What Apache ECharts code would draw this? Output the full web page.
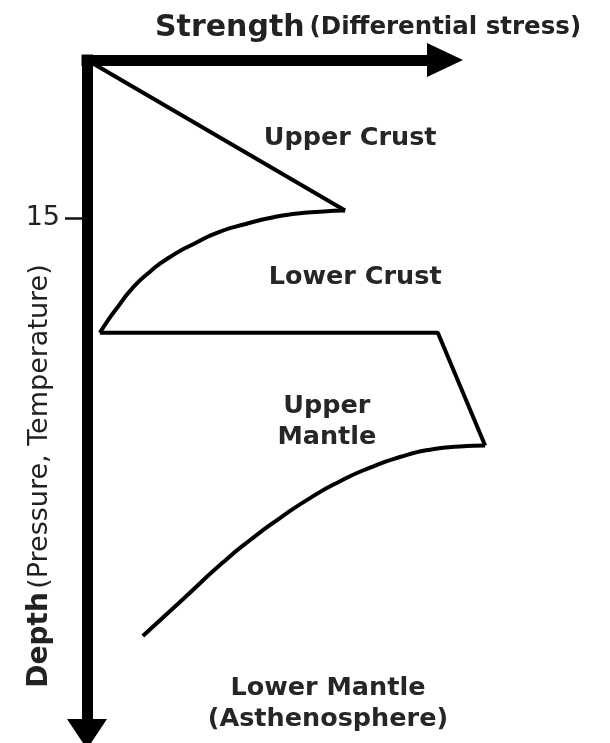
<!DOCTYPE html>
<html>
<head>
<meta charset="utf-8">
<script src="https://cdn.jsdelivr.net/npm/echarts@6/dist/echarts.min.js"></script>
<style>
  html, body { margin: 0; padding: 0; background: #fff; }
  #chart { width: 610px; height: 743px; }
</style>
</head>
<body>
<div id="chart"></div>
<script>
// strength (x) vs depth (y, downwards)
const depthTicks = [15]
const upperCrustLine = [[0, 0], [72.1, 14.3]]
const lowerCrustCurve = [[72.1, 14.3], [65.1, 14.4], [58.1, 14.6], [51.1, 15.0], [44.1, 15.6], [37.2, 16.3], [30.2, 17.4], [23.2, 18.7], [17.6, 20.1], [12.6, 21.7], [8.7, 23.4], [5.9, 24.7], [3.6, 25.9]]
const upperMantleEdge = [[3.6, 25.9], [98.0, 25.9], [111.2, 36.6]]
const lowerMantleCurve = [[111.2, 36.6], [104.2, 36.7], [95.8, 37.0], [87.4, 37.7], [79.1, 38.7], [70.7, 40.0], [62.3, 41.6], [53.9, 43.5], [45.5, 45.6], [38.0, 47.7], [26.8, 51.2], [15.6, 54.7]]
const zoneNames = ['Upper Crust', 'Lower Crust', 'Upper\nMantle', 'Lower Mantle\n(Asthenosphere)']
const zonePos = [[73.5, 7.4], [74.9, 20.6], [67.0, 34.4], [67.3, 61.1]]

const chart = echarts.init(document.getElementById('chart'))

const lineStyle = { color: '#000', width: 4 }
function profile (name, data, smooth) {
  return {
    name: name,
    type: 'line',
    xAxisIndex: 1,
    yAxisIndex: 1,
    data: data,
    smooth: smooth,
    showSymbol: false,
    silent: true,
    lineStyle: lineStyle
  }
}

const option = {
  backgroundColor: '#fff',
  animation: false,
  title: {
    left: 150,
    top: 8,
    text: '{a|Strength} {b|(Differential stress)}',
    textStyle: {
      rich: {
        a: { fontFamily: 'DejaVu Sans', fontWeight: 'bold', fontSize: 30, color: '#222' },
        b: { fontFamily: 'DejaVu Sans', fontWeight: 'bold', fontSize: 24.5, color: '#222' }
      }
    }
  },
  graphic: [{
    type: 'text',
    x: 40,
    y: 476,
    rotation: Math.PI / 2,
    style: {
      text: '{a|Depth} {b|(Pressure, Temperature)}',
      align: 'center',
      verticalAlign: 'middle',
      rich: {
        a: { fontFamily: 'DejaVu Sans', fontWeight: 'bold', fontSize: 28, fill: '#222' },
        b: { fontFamily: 'DejaVu Sans', fontSize: 27, fill: '#222' }
      }
    }
  }],
  grid: [
    // axes frame
    { left: 87, top: 60, right: 165, bottom: 9, containLabel: false, outerBoundsMode: 'none' },
    // same scale, wider so the profile can pass the arrow
    { left: 87, top: 60, right: 93.4, bottom: 9, containLabel: false, outerBoundsMode: 'none' }
  ],
  xAxis: [{
    type: 'value',
    gridIndex: 0,
    position: 'top',
    min: 0,
    max: 100,
    splitLine: { show: false },
    axisTick: { show: false },
    axisLabel: { show: false },
    axisLine: {
      show: true,
      symbol: ['none', 'triangle'],
      symbolSize: [34, 36],
      lineStyle: { color: '#000', width: 11, cap: 'square' }
    }
  }, {
    type: 'value',
    gridIndex: 1,
    min: 0,
    max: 120,
    show: false
  }],
  yAxis: [{
    type: 'value',
    gridIndex: 0,
    inverse: true,
    min: 0,
    max: 64,
    splitLine: { show: false },
    axisLine: {
      show: true,
      symbol: ['triangle', 'none'],
      symbolSize: [40, 30],
      lineStyle: { color: '#000', width: 11, cap: 'square' }
    },
    axisTick: {
      show: true,
      customValues: depthTicks,
      length: 22,
      lineStyle: { color: '#111', width: 2.5 }
    },
    axisLabel: {
      show: true,
      customValues: depthTicks,
      margin: 27,
      fontFamily: 'DejaVu Sans',
      fontSize: 27,
      color: '#222'
    }
  }, {
    type: 'value',
    gridIndex: 1,
    inverse: true,
    min: 0,
    max: 64,
    show: false
  }],
  series: [
    profile('upper crust', upperCrustLine, false),
    profile('lower crust', lowerCrustCurve, 0.6),
    profile('upper mantle', upperMantleEdge, false),
    profile('lower mantle', lowerMantleCurve, 0.6),
    {
      name: 'zones',
      type: 'scatter',
      xAxisIndex: 1,
      yAxisIndex: 1,
      symbolSize: 0,
      silent: true,
      itemStyle: { opacity: 1 },
      data: zoneNames.map((n, i) => ({ name: n, value: zonePos[i] })),
      label: {
        show: true,
        position: 'inside',
        formatter: '{b}',
        fontFamily: 'DejaVu Sans',
        fontWeight: 'bold',
        fontSize: 25.5,
        lineHeight: 31,
        color: '#262626'
      }
    }
  ]
}

chart.setOption(option)
window.addEventListener('resize', () => {
  chart.resize()
})
</script>
</body>
</html>
